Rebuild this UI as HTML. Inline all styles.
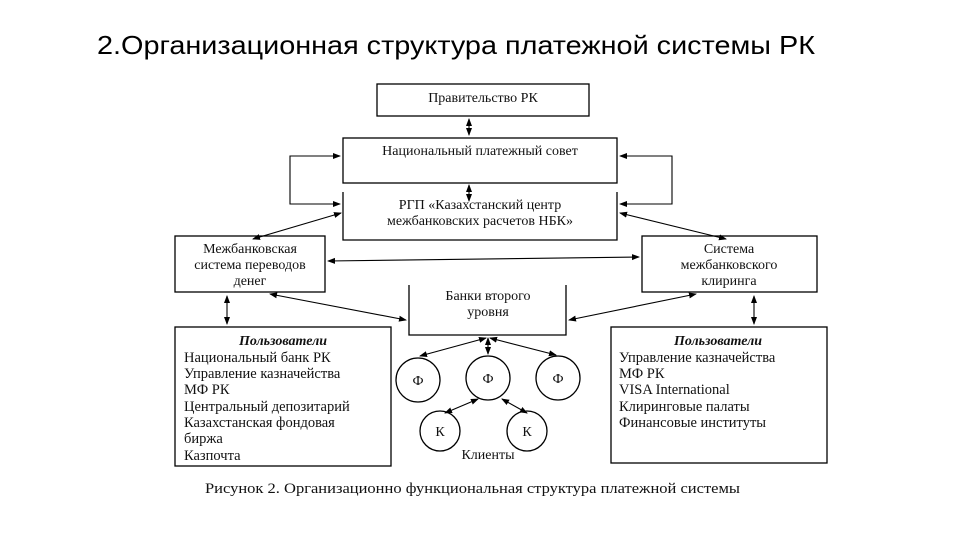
<!DOCTYPE html>
<html><head><meta charset="utf-8"><style>
body{margin:0;background:#fff;width:960px;height:540px;overflow:hidden}
</style></head><body>
<svg width="960" height="540" xmlns="http://www.w3.org/2000/svg" font-family="Liberation Serif, serif" fill="#111">
<defs><marker id="a" markerWidth="8" markerHeight="8" refX="7" refY="4" orient="auto-start-reverse" markerUnits="userSpaceOnUse"><path d="M0,1 L8,4 L0,7z" fill="#000"/></marker></defs>
<text x="97" y="54" font-family="Liberation Sans, sans-serif" font-size="26" fill="#000" textLength="718" lengthAdjust="spacingAndGlyphs">2.Организационная структура платежной системы РК</text>
<g fill="none" stroke="#000" stroke-width="1.3">
<rect x="377" y="84" width="212" height="32"/>
<rect x="343" y="138" width="274" height="45"/>
<path d="M343,192 V240 H617 V192"/>
<rect x="175" y="236" width="150" height="56"/>
<rect x="642" y="236" width="175" height="56"/>
<path d="M409,285 V335 H566 V285"/>
<rect x="175" y="327" width="216" height="139"/>
<rect x="611" y="327" width="216" height="136"/>
<circle cx="418" cy="380" r="22"/><circle cx="488" cy="378" r="22"/><circle cx="558" cy="378" r="22"/>
<circle cx="440" cy="431" r="20"/><circle cx="527" cy="431" r="20"/>
</g>
<g stroke="#000" stroke-width="1.1" fill="none">
<line x1="469" y1="119" x2="469" y2="135" marker-start="url(#a)" marker-end="url(#a)"/>
<line x1="469" y1="185" x2="469" y2="201" marker-start="url(#a)" marker-end="url(#a)"/>
<polyline points="340,156 290,156 290,204 340,204" marker-start="url(#a)" marker-end="url(#a)"/>
<polyline points="620,156 672,156 672,204 620,204" marker-start="url(#a)" marker-end="url(#a)"/>
<line x1="341" y1="213" x2="253" y2="239" marker-start="url(#a)" marker-end="url(#a)"/>
<line x1="620" y1="213" x2="726" y2="239" marker-start="url(#a)" marker-end="url(#a)"/>
<line x1="328" y1="261" x2="639" y2="257" marker-start="url(#a)" marker-end="url(#a)"/>
<line x1="270" y1="294" x2="406" y2="320" marker-start="url(#a)" marker-end="url(#a)"/>
<line x1="569" y1="320" x2="696" y2="294" marker-start="url(#a)" marker-end="url(#a)"/>
<line x1="227" y1="296" x2="227" y2="324" marker-start="url(#a)" marker-end="url(#a)"/>
<line x1="754" y1="296" x2="754" y2="324" marker-start="url(#a)" marker-end="url(#a)"/>
<line x1="486" y1="338" x2="420" y2="356" marker-start="url(#a)" marker-end="url(#a)"/>
<line x1="488" y1="338" x2="488" y2="354" marker-start="url(#a)" marker-end="url(#a)"/>
<line x1="490" y1="338" x2="556" y2="355" marker-start="url(#a)" marker-end="url(#a)"/>
<line x1="478" y1="399" x2="445" y2="413" marker-start="url(#a)" marker-end="url(#a)"/>
<line x1="502" y1="399" x2="527" y2="413" marker-start="url(#a)" marker-end="url(#a)"/>
</g>
<g font-size="14" text-anchor="middle">
<text x="483" y="102">Правительство РК</text>
<text x="480" y="155">Национальный платежный совет</text>
<text x="480" y="209">РГП «Казахстанский центр</text>
<text x="480" y="225">межбанковских расчетов НБК»</text>
<text x="250" y="253">Межбанковская</text>
<text x="250" y="269">система переводов</text>
<text x="250" y="285">денег</text>
<text x="729" y="253">Система</text>
<text x="729" y="269">межбанковского</text>
<text x="729" y="285">клиринга</text>
<text x="488" y="300">Банки второго</text>
<text x="488" y="316">уровня</text>
<text x="418" y="385">Ф</text><text x="488" y="383">Ф</text><text x="558" y="383">Ф</text>
<text x="440" y="436">К</text><text x="527" y="436">К</text>
<text x="488" y="459">Клиенты</text>
<text x="283" y="345" font-style="italic" font-weight="bold">Пользователи</text>
<text x="718" y="345" font-style="italic" font-weight="bold">Пользователи</text>
</g>
<g font-size="14.5">
<text x="184" y="362">Национальный банк РК</text>
<text x="184" y="378">Управление казначейства</text>
<text x="184" y="394">МФ РК</text>
<text x="184" y="411">Центральный депозитарий</text>
<text x="184" y="427">Казахстанская фондовая</text>
<text x="184" y="443">биржа</text>
<text x="184" y="460">Казпочта</text>
<text x="619" y="362">Управление казначейства</text>
<text x="619" y="378">МФ РК</text>
<text x="619" y="394">VISA International</text>
<text x="619" y="411">Клиринговые палаты</text>
<text x="619" y="427">Финансовые институты</text>
<text x="205" y="493" textLength="535" lengthAdjust="spacingAndGlyphs">Рисунок 2. Организационно функциональная структура платежной системы</text>
</g>
</svg>
</body></html>
